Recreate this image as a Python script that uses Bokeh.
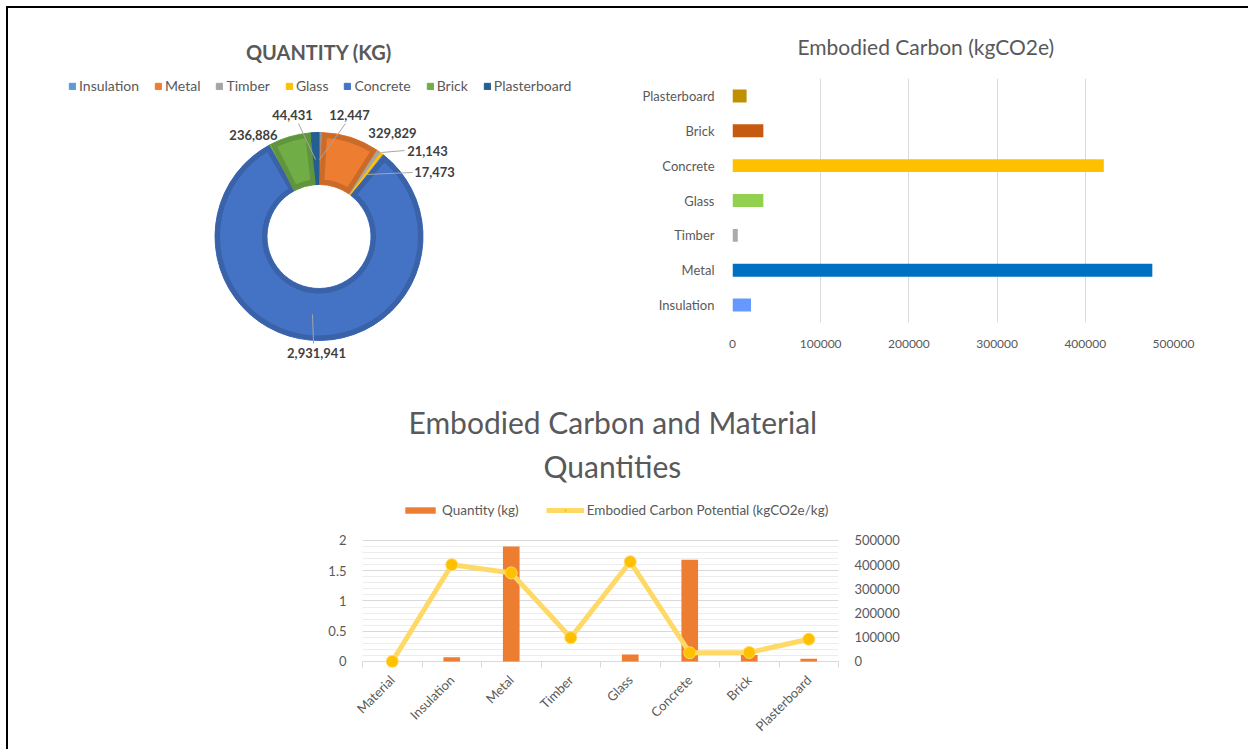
from math import pi
from bokeh.plotting import figure
from bokeh.models import (Range1d, FactorRange, LinearAxis, FixedTicker, Title, Spacer,
                          NumeralTickFormatter, Legend, LegendItem, ColumnDataSource)
from bokeh.layouts import column, row
from bokeh.embed import file_html
from bokeh.resources import INLINE
from bokeh.core.properties import value

# ---------------- data ----------------
pie_materials = ["Insulation", "Metal", "Timber", "Glass", "Concrete", "Brick", "Plasterboard"]
pie_quantities = [12447, 329829, 21143, 17473, 2931941, 236886, 44431]
pie_colors = ["#5B9BD5", "#ED7D31", "#A5A5A5", "#FFC000", "#4472C4", "#70AD47", "#255E91"]

carbon_materials = ["Insulation", "Metal", "Timber", "Glass", "Concrete", "Brick", "Plasterboard"]
carbon_values = [21000, 476000, 6000, 35000, 421000, 35000, 16000]
carbon_colors = ["#6699FF", "#0070C0", "#AEAAAA", "#92D050", "#FFC000", "#C55A11", "#BF9000"]
carbon_ticks = [0, 100000, 200000, 300000, 400000, 500000]

combo_categories = ["Material", "Insulation", "Metal", "Timber", "Glass", "Concrete", "Brick", "Plasterboard"]
combo_quantity = [0, 0.07, 1.90, 0, 0.115, 1.68, 0.105, 0.045]
combo_carbon_potential = [0, 400000, 366000, 98000, 412000, 36000, 37000, 92000]
left_ticks = [0, 0.5, 1, 1.5, 2]
right_ticks = [0, 100000, 200000, 300000, 400000, 500000]

# ---------------- styling / layout ----------------
FONT = "Lato"
TXT = "#595959"
OX, OY = 8, 8            # page position of the content (inside the frame border)


def darker(h, f=0.86):
    h = h.lstrip("#")
    r, g, b = (int(h[i:i + 2], 16) for i in (0, 2, 4))
    return "#%02x%02x%02x" % (int(r * f), int(g * f), int(b * f))


# ======== 1. Doughnut: QUANTITY (KG) ========
W1, H1 = 612, 372


def X1(px):
    return px - OX


def Y1(py):
    return (OY + H1) - py


p1 = figure(width=W1, height=H1, x_range=Range1d(0, W1), y_range=Range1d(0, H1),
            x_axis_location=None, y_axis_location=None, min_border=0,
            output_backend="svg", toolbar_location=None)
p1.frame_align = False
p1.outline_line_color = None
p1.grid.visible = False

CX, CY = X1(318.5), Y1(236)
R_OUT, R_IN = 104, 52
total = float(sum(pie_quantities))
starts, ends = [], []
cum = 0
for v in pie_quantities:
    a0 = pi / 2 - 2 * pi * cum / total
    cum += v
    a1 = pi / 2 - 2 * pi * cum / total
    starts.append(a1)
    ends.append(a0)

srcA = ColumnDataSource(dict(x=[CX] * len(pie_materials), y=[CY] * len(pie_materials),
                             start=starts, end=ends, color=pie_colors, material=pie_materials))
rA = p1.annular_wedge(x="x", y="y", inner_radius=R_IN, outer_radius=R_OUT,
                      start_angle="start", end_angle="end", fill_color="color",
                      line_color="color", line_width=1, source=srcA)

# bevel edge (darker band inside each large slice)
inset = 2.5
rmid = (R_IN + R_OUT) / 2
bx, by, bs, be, bc = [], [], [], [], []
for s, e, c in zip(starts, ends, pie_colors):
    if e - s > 0.1:
        bx.append(CX); by.append(CY)
        bs.append(s + inset / rmid); be.append(e - inset / rmid)
        bc.append(darker(c))
p1.annular_wedge(x=bx, y=by, inner_radius=R_IN + inset, outer_radius=R_OUT - inset,
                 start_angle=bs, end_angle=be, fill_color=None, line_color=bc,
                 line_width=5, line_join="miter")

# leader lines (page coords)
leaders = [[(345, 123), (319, 159)], [(404, 150), (381, 152)], [(412, 172), (366, 174)],
           [(312, 314), (313, 343)], [(298, 123), (315, 159)]]
p1.multi_line(xs=[[X1(a[0]) for a in l] for l in leaders],
              ys=[[Y1(a[1]) for a in l] for l in leaders],
              line_color="#A6A6A6", line_width=1)

# data labels
label_pos = [(349, 114), (392, 132), (427, 150), (434, 171), (316, 352), (253, 134), (292, 114)]
p1.text(x=[X1(a[0]) for a in label_pos], y=[Y1(a[1]) for a in label_pos],
        text=[f"{v:,}" for v in pie_quantities], text_align="center", text_baseline="middle",
        text_font=value(FONT), text_font_style="bold", text_font_size="13px", text_color="#404040")

# title
p1.text(x=[CX], y=[Y1(51)], text=["QUANTITY (KG)"], text_align="center", text_baseline="middle",
        text_font=value(FONT), text_font_style="bold", text_font_size="20px", text_color=TXT)

leg1 = Legend(items=[LegendItem(label=m, renderers=[rA], index=i) for i, m in enumerate(pie_materials)],
              orientation="horizontal", location=(X1(68), Y1(87) - 7),
              glyph_width=8, glyph_height=8, label_standoff=3, spacing=15, padding=0, margin=0,
              label_height=14, border_line_color=None, background_fill_alpha=0,
              label_text_font=FONT, label_text_font_size="14px", label_text_color=TXT)
p1.add_layout(leg1)

# ======== 2. Horizontal bars: Embodied Carbon ========
p2 = figure(width=622, height=372, x_range=Range1d(0, 500000), y_range=FactorRange(*carbon_materials),
            min_border_left=112, min_border_right=69, min_border_top=70, min_border_bottom=58,
            output_backend="svg", toolbar_location=None)
p2.frame_align = False
p2.outline_line_color = None
p2.hbar(y=carbon_materials, right=carbon_values, height=0.37, fill_color=carbon_colors, line_color=None)
p2.xaxis.ticker = FixedTicker(ticks=carbon_ticks)
p2.xaxis.formatter = NumeralTickFormatter(format="0")
p2.xgrid.ticker = FixedTicker(ticks=carbon_ticks)
p2.xgrid.grid_line_color = "#D9D9D9"
p2.ygrid.visible = False
for ax in (p2.xaxis, p2.yaxis):
    ax.axis_line_color = None
    ax.major_tick_line_color = None
    ax.minor_tick_line_color = None
    ax.major_label_text_font = FONT
    ax.major_label_text_color = TXT
p2.xaxis.major_label_text_font_size = "12px"
p2.yaxis.major_label_text_font_size = "13px"
p2.xaxis.major_label_standoff = 11
p2.yaxis.major_label_standoff = 12
p2.title.text = "Embodied Carbon (kgCO2e)"
p2.title.align = "left"
p2.title.offset = 65
p2.title.text_font = FONT
p2.title.text_font_style = "normal"
p2.title.text_font_size = "21px"
p2.title.text_color = TXT
p2.title.standoff = 40

# ======== 3. Combo chart ========
ncat = len(combo_categories)
cat_pos = [i + 0.5 for i in range(ncat)]           # centre of each category slot
PX_PER_UNIT = 60.48                                 # left-axis pixels per unit
EXTRA_TOP = 50 / PX_PER_UNIT                        # room above the plot for the legend
EXTRA_BOTTOM = 0.1                                  # room below zero for the markers
R_PER_L = right_ticks[-1] / left_ticks[-1]
p3 = figure(width=1234, height=369, x_range=Range1d(0, ncat),
            y_range=Range1d(-EXTRA_BOTTOM, left_ticks[-1] + EXTRA_TOP),
            min_border_left=354, min_border_right=404, min_border_top=110, min_border_bottom=82,
            x_axis_location=None, output_backend="svg", toolbar_location=None)
p3.frame_align = False
p3.outline_line_color = None
p3.extra_y_ranges = {"right": Range1d(-EXTRA_BOTTOM * R_PER_L, (left_ticks[-1] + EXTRA_TOP) * R_PER_L)}

minor = [i / 10 for i in range(21)]
p3.ygrid.ticker = FixedTicker(ticks=left_ticks, minor_ticks=minor)
p3.ygrid.grid_line_color = "#D9D9D9"
p3.ygrid.minor_grid_line_color = "#EDEDED"
p3.xgrid.visible = False

src3 = ColumnDataSource(dict(x=cat_pos, cat=combo_categories, q=combo_quantity, c=combo_carbon_potential))
rbar = p3.vbar(x="x", top="q", width=0.28, fill_color="#ED7D31", line_color=None, source=src3)
rline = p3.line(x="x", y="c", y_range_name="right", source=src3,
                line_color="#FFD966", line_width=5, line_join="round")
rdots = p3.scatter(x="x", y="c", y_range_name="right", source=src3,
                   size=12, fill_color="#FFC000", line_color="#FFD966", line_width=1)

ly = p3.yaxis[0]
ly.ticker = FixedTicker(ticks=left_ticks)
ly.formatter = NumeralTickFormatter(format="0.[0]")
ry = LinearAxis(y_range_name="right", ticker=FixedTicker(ticks=right_ticks),
                formatter=NumeralTickFormatter(format="0"))
p3.add_layout(ry, "right")
for ax in (ly, ry):
    ax.axis_line_color = None
    ax.major_tick_line_color = None
    ax.minor_tick_line_color = None
    ax.major_label_text_font = FONT
    ax.major_label_text_color = TXT
    ax.major_label_text_font_size = "13px"
    ax.major_label_standoff = 10

bx_axis = LinearAxis(ticker=FixedTicker(ticks=cat_pos, minor_ticks=list(range(ncat + 1))),
                     major_label_overrides={c: n for c, n in zip(cat_pos, combo_categories)})
bx_axis.axis_line_color = None
bx_axis.major_tick_line_color = None
bx_axis.minor_tick_line_color = "#D9D9D9"
bx_axis.minor_tick_in = 6
bx_axis.minor_tick_out = 0
bx_axis.major_label_orientation = pi / 4
bx_axis.major_label_standoff = 4
bx_axis.major_label_text_font = FONT
bx_axis.major_label_text_color = TXT
bx_axis.major_label_text_font_size = "13px"
p3.add_layout(bx_axis, "below")

title_kw = dict(align="left", text_font=FONT, text_font_style="normal",
                text_font_size="30px", text_color=TXT)
p3.add_layout(Title(text="Quantities", offset=181, standoff=13, **title_kw), "above")
p3.title = Title(text="Embodied Carbon and Material", offset=46, standoff=0, **title_kw)

leg3 = Legend(items=[LegendItem(label="Quantity (kg)", renderers=[rbar]),
                     LegendItem(label="Embodied Carbon Potential (kgCO2e/kg)", renderers=[rline, rdots])],
              orientation="horizontal", location=(39, 149),
              glyph_width=38, glyph_height=8, label_standoff=3, spacing=27, padding=0, margin=0,
              label_height=14, border_line_color=None, background_fill_alpha=0,
              label_text_font=FONT, label_text_font_size="13.5px", label_text_color=TXT)
p3.add_layout(leg3)

# frame border of the screenshot (top and left edges only)
top_edge = Spacer(width=1242, height=2, styles={"background-color": "#000000"})
left_edge = Spacer(width=2, height=372 + 369, styles={"background-color": "#000000"})
content = column(row(p1, p2), p3)
layout = column(top_edge, row(left_edge, content), margin=(6, 0, 0, 6))

open("out.html", "w").write(file_html(layout, INLINE, title="Embodied carbon"))
